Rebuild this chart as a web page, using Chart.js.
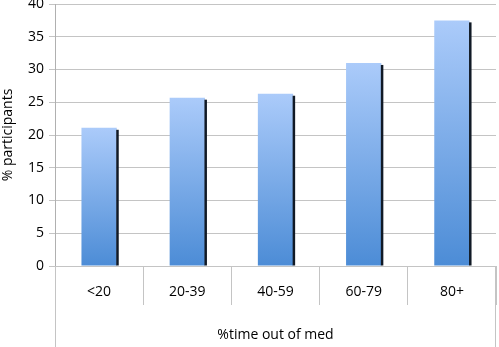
<!DOCTYPE html>
<html>
<head>
<meta charset="utf-8">
<script src="https://cdn.jsdelivr.net/npm/chart.js@4"></script>
<style>
  html, body { margin: 0; padding: 0; background: #fff; }
  #wrap { width: 499px; height: 347px; position: relative; }
</style>
</head>
<body>
<div id="wrap"><canvas id="chart"></canvas></div>
<script>
var categories = ['<20', '20-39', '40-59', '60-79', '80+'];
var participants = [21.1, 25.7, 26.3, 31.0, 37.5];
var yTicks = [0, 5, 10, 15, 20, 25, 30, 35, 40];

var fontFamily = '"Open Sans", sans-serif';

// bar gradient from light top to darker base, per bar
function barGradient(context) {
  var chart = context.chart;
  var el = context.element;
  if (!chart.chartArea || !el) return '#7aaae8';
  var y = chart.scales.y;
  var top = y.getPixelForValue(context.raw);
  var base = y.getPixelForValue(0);
  var g = chart.ctx.createLinearGradient(0, top, 0, base);
  g.addColorStop(0, '#abcbfa');
  g.addColorStop(1, '#4c8cd6');
  return g;
}

// dark edge on the right side of each bar + the box round the axis title
var extras = {
  id: 'extras',
  afterDatasetsDraw: function (chart) {
    var ctx = chart.ctx;
    var meta = chart.getDatasetMeta(0);
    ctx.save();
    ctx.fillStyle = '#111a26';
    meta.data.forEach(function (bar) {
      var right = bar.x + bar.width / 2;
      ctx.fillRect(right - 0.5, bar.y + 2, 2.5, bar.base - bar.y - 2);
    });
    ctx.restore();
  },
  afterDraw: function (chart) {
    var ctx = chart.ctx;
    var a = chart.chartArea;
    ctx.save();
    ctx.strokeStyle = '#c4c4c4';
    ctx.lineWidth = 1;
    ctx.beginPath();
    ctx.moveTo(Math.round(a.left) + 0.5, a.bottom);
    ctx.lineTo(Math.round(a.left) + 0.5, chart.height);
    ctx.moveTo(Math.round(a.right) - 0.5, a.bottom);
    ctx.lineTo(Math.round(a.right) - 0.5, chart.height);
    ctx.stroke();
    ctx.restore();
  }
};

new Chart(document.getElementById('chart'), {
  type: 'bar',
  data: {
    labels: categories,
    datasets: [{
      label: '% participants',
      data: participants,
      backgroundColor: barGradient,
      borderWidth: 0,
      barPercentage: 0.4,
      categoryPercentage: 1.0
    }]
  },
  options: {
    responsive: true,
    maintainAspectRatio: false,
    animation: false,
    layout: { padding: { top: 4, right: 3, left: 0, bottom: 0 } },
    plugins: {
      legend: { display: false },
      tooltip: { enabled: false }
    },
    scales: {
      x: {
        afterFit: function (scale) { scale.height = 81; },
        grid: {
          offset: true,
          drawOnChartArea: false,
          tickLength: 39,
          color: '#c4c4c4'
        },
        border: { color: '#c4c4c4' },
        ticks: {
          color: '#000',
          padding: -21,
          font: { family: fontFamily, size: 14 }
        },
        title: {
          display: true,
          text: '%time out of med',
          color: '#000',
          padding: { top: 0, bottom: 4 },
          font: { family: fontFamily, size: 14 }
        }
      },
      y: {
        min: 0,
        max: 40,
        afterFit: function (scale) {
          scale.width = 55;
          scale.paddingTop = 0;
          scale.paddingBottom = 0;
        },
        afterBuildTicks: function (scale) {
          scale.ticks = yTicks.map(function (v) { return { value: v }; });
        },
        grid: {
          color: '#c4c4c4',
          tickLength: 6
        },
        border: { color: '#b0b0b0' },
        ticks: {
          color: '#000',
          padding: 5,
          font: { family: fontFamily, size: 14 }
        },
        title: {
          display: true,
          text: '% participants',
          color: '#000',
          padding: { top: 0, bottom: 2 },
          font: { family: fontFamily, size: 14 }
        }
      }
    }
  },
  plugins: [extras]
});
</script>
</body>
</html>
